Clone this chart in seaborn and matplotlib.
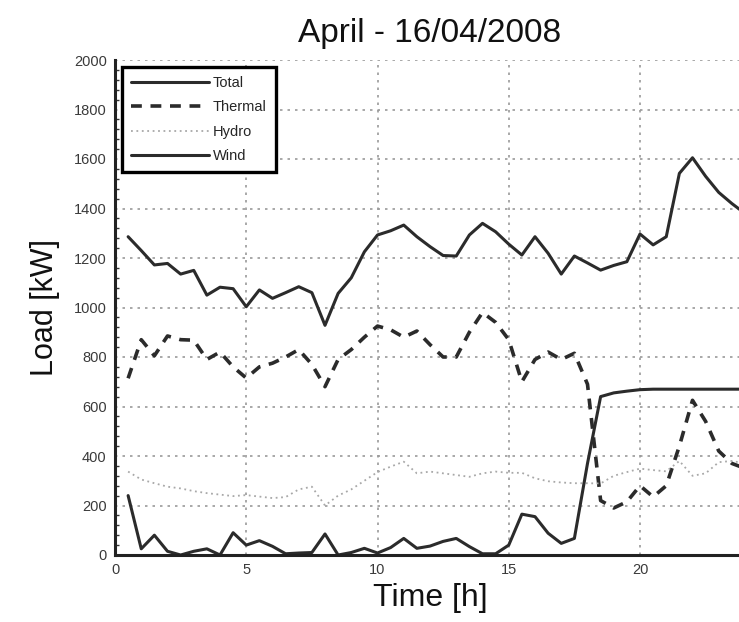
import numpy as np
import pandas as pd
import matplotlib
matplotlib.use("Agg")
import matplotlib.pyplot as plt
from matplotlib.ticker import MultipleLocator
import seaborn as sns

# ---- data (half-hourly) ----
time_h = [0.5, 1.0, 1.5, 2.0, 2.5, 3.0, 3.5, 4.0, 4.5, 5.0, 5.5, 6.0,
          6.5, 7.0, 7.5, 8.0, 8.5, 9.0, 9.5, 10.0, 10.5, 11.0, 11.5, 12.0,
          12.5, 13.0, 13.5, 14.0, 14.5, 15.0, 15.5, 16.0, 16.5, 17.0, 17.5, 18.0,
          18.5, 19.0, 19.5, 20.0, 20.5, 21.0, 21.5, 22.0, 22.5, 23.0, 23.5, 24.0]

total = [1286, 1230, 1172, 1178, 1135, 1150, 1050, 1082, 1076, 1003, 1071, 1037,
         1060, 1084, 1060, 928, 1057, 1120, 1225, 1293, 1310, 1333, 1286, 1246,
         1210, 1208, 1293, 1340, 1306, 1256, 1212, 1286, 1219, 1135, 1208, 1180,
         1151, 1170, 1185, 1297, 1253, 1286, 1542, 1605, 1530, 1465, 1420, 1380]

thermal = [714, 870, 805, 885, 870, 868, 790, 820, 760, 715, 760, 775,
           800, 830, 770, 680, 790, 830, 880, 925, 910, 880, 905, 850,
           800, 800, 900, 980, 940, 870, 700, 790, 820, 790, 815, 690,
           220, 190, 215, 280, 235, 280, 440, 625, 540, 420, 370, 350]

hydro = [337, 305, 290, 276, 269, 258, 250, 244, 238, 242, 236, 230,
         234, 265, 276, 200, 240, 265, 300, 335, 357, 377, 330, 337,
         330, 323, 316, 330, 337, 332, 332, 310, 298, 293, 290, 290,
         289, 320, 335, 349, 343, 338, 380, 320, 330, 375, 380, 370]

wind = [240, 25, 80, 15, 0, 15, 25, 0, 90, 40, 58, 35,
        5, 8, 10, 85, 0, 10, 27, 8, 30, 67, 27, 36,
        55, 67, 34, 5, 5, 40, 165, 155, 88, 47, 67, 370,
        640, 655, 662, 668, 670, 670, 670, 670, 670, 670, 670, 670]

x_ticks = [0, 5, 10, 15, 20]
y_ticks = [0, 200, 400, 600, 800, 1000, 1200, 1400, 1600, 1800, 2000]

df = pd.DataFrame({"Time": time_h, "Total": total, "Thermal": thermal,
                   "Hydro": hydro, "Wind": wind})

sns.set_style("white")
plt.rcParams["font.family"] = ["Liberation Sans", "DejaVu Sans"]

fig = plt.figure(figsize=(7.39, 6.22), dpi=100)
ax = fig.add_axes([115 / 739, 67 / 622, 630 / 739, 495 / 622])

dark = "#2b2b2b"
sns.lineplot(data=df, x="Time", y="Total", ax=ax, color=dark, lw=2.2,
             label="Total")
sns.lineplot(data=df, x="Time", y="Thermal", ax=ax, color=dark, lw=2.6,
             linestyle=(0, (3.0, 2.4)), label="Thermal")
sns.lineplot(data=df, x="Time", y="Hydro", ax=ax, color="#a8a8a8", lw=1.3,
             linestyle=(0, (1, 2.0)), label="Hydro")
sns.lineplot(data=df, x="Time", y="Wind", ax=ax, color=dark, lw=2.2,
             label="Wind")

ax.set_xlim(0, 24)
ax.set_ylim(0, 2000)
ax.set_xticks(x_ticks)
ax.set_yticks(y_ticks)
ax.yaxis.set_minor_locator(MultipleLocator(40))
ax.tick_params(axis="both", which="major", direction="inout", length=6,
               width=1.5, labelsize=10.5, colors="#3a3a3a", pad=3)
ax.tick_params(axis="y", which="minor", direction="in", length=3, width=1,
               color="#333333", left=True)

ax.grid(True, which="major", linestyle=(0, (1.5, 3)), color="#9a9a9a", lw=1.2)

for s in ["top", "right"]:
    ax.spines[s].set_visible(False)
for s in ["left", "bottom"]:
    ax.spines[s].set_linewidth(2.2)
    ax.spines[s].set_color("#222222")

ax.set_xlabel("Time [h]", fontsize=23, labelpad=4, color="#111111")
ax.set_ylabel("Load [kW]", fontsize=22, labelpad=10, color="#111111")
ax.set_title("April - 16/04/2008", fontsize=24, pad=13, color="#111111")

leg = ax.legend(loc="upper left", bbox_to_anchor=(0.011, 0.986),
                fontsize=10.5, handlelength=5.4, handletextpad=0.25,
                labelspacing=0.72, borderpad=0.6, frameon=True,
                fancybox=False, borderaxespad=0)
leg.get_frame().set_edgecolor("black")
leg.get_frame().set_linewidth(2.4)
leg.get_frame().set_facecolor("white")
leg.get_frame().set_alpha(1)

fig.savefig("out.png", dpi=100)
